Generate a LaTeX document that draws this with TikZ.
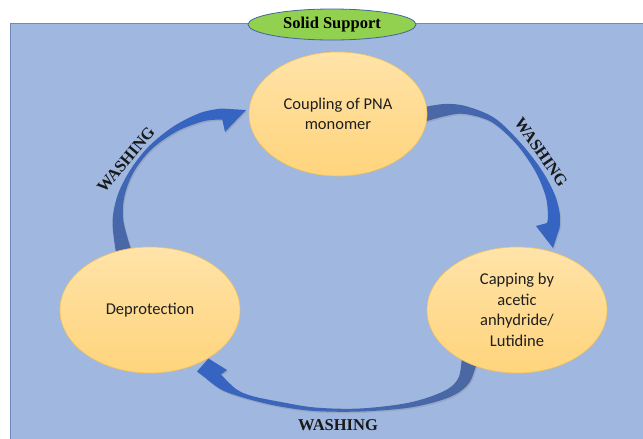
\documentclass[tikz,border=0pt]{standalone}
\usepackage{fontspec}
\setmainfont{Liberation Serif}
\newfontfamily\calib{Carlito}
\usetikzlibrary{shapes.geometric,shadows}
\definecolor{bgblue}{HTML}{A0B8E0}
\definecolor{bgedge}{HTML}{6F89BC}
\definecolor{ellfillA}{HTML}{FFE3A8}
\definecolor{ellfillB}{HTML}{FFD47C}
\definecolor{ellline}{HTML}{F2C35A}
\definecolor{supgreen}{HTML}{92D050}
\definecolor{supline}{HTML}{41659F}
\definecolor{arrowA}{HTML}{3564C4}
\definecolor{arrowB}{HTML}{4C68A3}
\begin{document}
\begin{tikzpicture}[x=1pt,y=-1pt,
  stage/.style={ellipse, draw=ellline, line width=0.6pt, top color=ellfillA, bottom color=ellfillB,
    minimum width=180pt, minimum height=126pt, inner sep=0pt, align=center,
    font=\calib\fontsize{16.5}{20.5}\selectfont, text=black!88},
  washlabel/.style={font=\bfseries\fontsize{16.5}{18}\selectfont, text=black!90},
  bandshadow/.style={drop shadow={opacity=0.3, shadow xshift=1pt, shadow yshift=-1.5pt}}
]
\useasboundingbox (0,0) rectangle (643,439);
\fill[bgblue] (10,23.5) rectangle (643,439);
\draw[bgedge, line width=1pt] (643,23.5) -- (10,23.5) -- (10,439);

% connectors (drawn below the stage ellipses)
\path[bandshadow, bottom color=arrowB, top color=arrowA]
  plot[smooth, tension=0.55] coordinates {(116.5,256) (112.5,222.3) (117.7,195) (130.4,169.8) (148.7,146.5) (173.5,126.4) (200.7,112.7) (221.7,108.5)}
  -- (246,110) -- (225,132) -- (222.3,119.5)
  -- plot[smooth, tension=0.55] coordinates {(222.3,119.5) (203.3,121.3) (176.5,131.6) (151.3,149.5) (133.6,172.2) (124.3,197) (123.5,221.7) (132.5,254)}
  -- cycle;

\path[bandshadow, left color=arrowB, right color=arrowA]
  plot[smooth, tension=0.55] coordinates {(422,107.5) (444.4,104) (465.8,106.1) (494.5,118) (519.5,141.7) (540.7,168.7) (554.4,193.9) (560,215) (559.5,228)}
  -- (553,248) -- (536,226) -- (547,223)
  -- plot[smooth, tension=0.55] coordinates {(547,223) (548,215) (545.6,196.1) (535.3,171.3) (516.5,144.3) (491.5,122) (464.2,113.9) (445.6,116) (422,122.5)}
  -- cycle;

\path[bandshadow, left color=arrowA, right color=arrowB]
  plot[smooth, tension=0.55] coordinates {(478,358) (469.3,382.7) (449.4,397.2) (410.7,407.4) (360.1,411.5) (314.85,411) (280,406.5) (248,399) (222,390) (205,377.5)}
  -- (197,371.5) -- (208.5,358.5) -- (227,370) -- (221,374.5)
  -- plot[smooth, tension=0.55] coordinates {(221,374.5) (236,389) (252,396) (281,402) (315.15,407.5) (359.9,408.5) (409.3,402.6) (444.6,390.8) (458.7,377.3) (462,354)}
  -- cycle;

% stages
\node[stage, minimum width=178pt, minimum height=124pt] (coup) at (338,114) {Coupling of PNA\\monomer};
\node[stage] (dep) at (150,310) {Deprotection};
\node[stage] (cap) at (517,310) {Capping by\\acetic\\anhydride/\\Lutidine};

% labels
\node[washlabel, rotate=50] (w1) at (126,160) {WASHING};
\node[washlabel, rotate=-55] (w2) at (541,152) {WASHING};
\node[washlabel] (w3) at (338,425) {WASHING};

% solid support
\node[ellipse, draw=supline, line width=0.8pt, fill=supgreen, minimum width=168pt, minimum height=31pt,
  inner sep=0pt, font=\bfseries\fontsize{16.5}{18}\selectfont] (sup) at (332,24.5) {Solid Support};
\end{tikzpicture}
\end{document}
